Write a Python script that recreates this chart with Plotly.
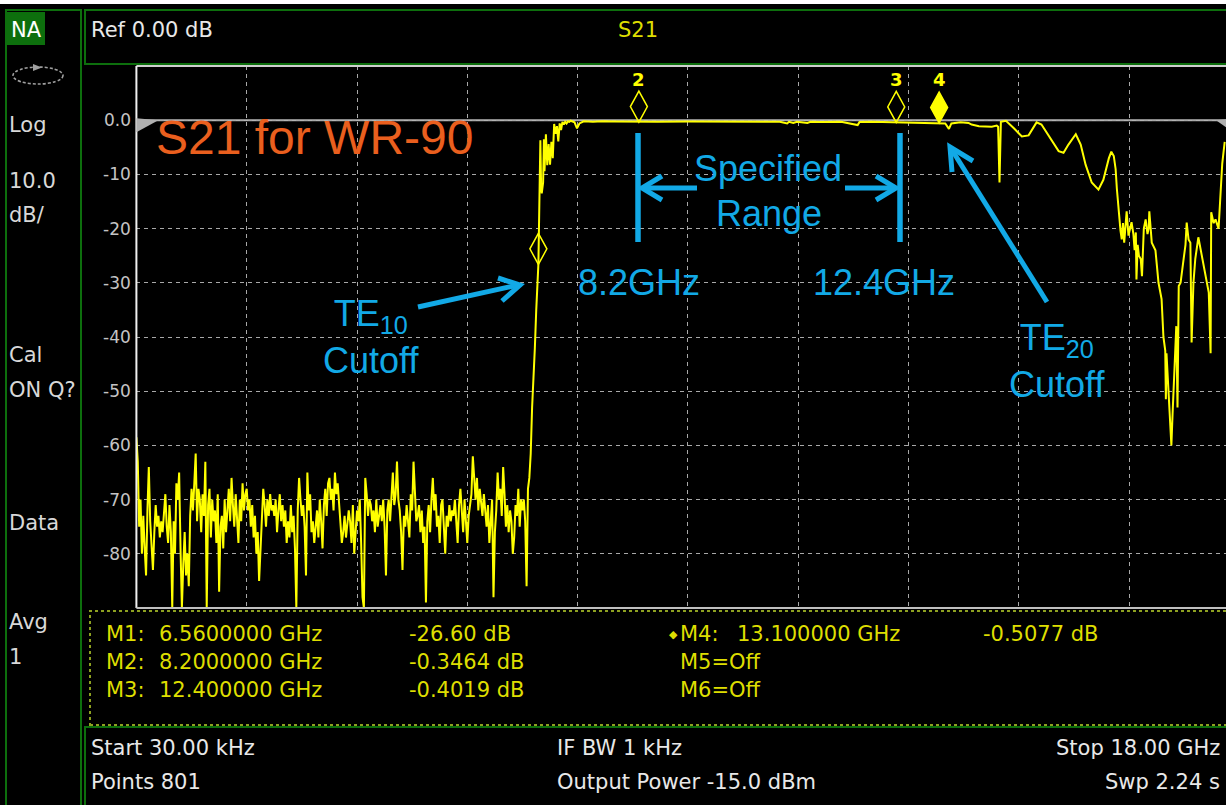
import plotly.graph_objects as go

W, H = 1226, 805

# ---- sweep settings ---------------------------------------------------------
START_GHZ = 30e-6
STOP_GHZ = 18.0
N_POINTS = 801
STEP_GHZ = (STOP_GHZ - START_GHZ) / (N_POINTS - 1)

# ---- S21 trace (dB) ---------------------------------------------------------
# below TE10 cutoff: one value per sweep point, starting at 30 kHz
noise_floor_db = [
    -58.5, -63, -75, -70, -80, -73, -79, -84, -72, -64,
    -74, -78, -83, -76, -71, -75, -73, -77, -74, -76,
    -73, -69, -75, -78, -71, -76, -90, -74, -80, -67,
    -70, -65, -79, -90, -82, -76, -84, -80, -86, -73,
    -68, -72, -67, -61.5, -74, -68, -70, -76, -69, -73,
    -63, -90, -71, -68, -77, -70, -74, -72, -78, -69,
    -87, -75, -73, -79, -70, -76, -72, -68, -74, -66,
    -71, -75, -69, -73, -78, -70, -74, -67, -72, -69,
    -68, -72, -70, -75, -71, -77, -73, -80, -76, -85,
    -79, -74, -68, -71, -75, -70, -73, -69, -72, -71,
    -73, -70, -76, -72, -69, -74, -71, -75, -72, -78,
    -74, -77, -71, -76, -73, -79, -90, -72, -66, -70,
    -73, -71, -75, -84, -65, -72, -69, -76, -74, -78,
    -75, -72, -77, -70, -74, -79, -71, -68, -73, -67,
    -66, -70, -68, -72, -65, -69, -67, -71, -74, -78,
    -76, -73, -77, -75, -72, -74, -78, -71, -80, -76,
    -72, -74, -70, -78, -88, -90, -66, -69, -73, -70,
    -71, -74, -72, -76, -70, -75, -73, -71, -74, -70,
    -75, -84, -72, -70, -74, -68, -65, -71, -69, -63,
    -70, -72, -76, -83, -73, -75, -71, -74, -77, -69,
    -72, -63, -70, -74, -73, -71, -76, -72, -78, -75,
    -89, -74, -71, -76, -70, -66, -72, -69, -75, -73,
    -78, -71, -70, -76, -80, -73, -75, -71, -74, -72,
    -73, -70, -74, -78, -71, -68, -72, -76, -70, -75,
    -78, -73, -71, -69, -62, -67, -70, -66, -72, -68,
    -70, -73, -69, -72, -75, -71, -78, -74, -70, -88,
    -76, -72, -65, -70, -68, -73, -64, -69, -75, -71,
    -76, -72, -74, -80, -77, -71, -73, -68, -75, -70,
    -72, -70, -74, -86, -68, -66,
]

# TE10 cutoff edge
rise_freq_ghz = [
    6.435, 6.4575, 6.48, 6.5025, 6.525, 6.5475, 6.56, 6.57, 6.58, 6.5925,
    6.605, 6.615, 6.6375, 6.65, 6.66, 6.6825, 6.705, 6.7275, 6.75, 6.7725,
    6.795, 6.8175, 6.84, 6.8625, 6.885, 6.9075, 6.93, 6.9525, 6.975, 6.9975,
    7.02, 7.0425, 7.065, 7.0875,
]
rise_db = [
    -61.5, -53, -48, -42, -35, -29, -26.6, -19.5, -13, -3.7,
    -12.5, -13.5, -11.5, -3.5, -9.4, -2.6, -8.3, -4.4, -8.2, -4,
    -7, -0.7, -2.5, -1.1, -3.9, -0.6, -1.8, -0.3, -0.8, -0.3,
    -0.6, -0.2, -0.3, -0.1,
]

# passband and the higher-order-mode region
pass_freq_ghz = [
    7.15, 7.19, 7.23, 7.3, 7.45, 7.6, 7.8, 8.0, 8.2, 8.5,
    9.0, 9.5, 10.0, 10.5, 10.62, 10.65, 10.72, 10.78, 10.95, 11.0,
    11.2, 11.5, 11.77, 11.8, 12.0, 12.2, 12.4, 12.7, 13.0, 13.1,
    13.2, 13.26, 13.3, 13.45, 13.58, 13.63, 13.75, 13.96, 14.04, 14.0625,
    14.085, 14.1075, 14.19, 14.32, 14.45, 14.56, 14.69, 14.77, 14.89, 15.05,
    15.13, 15.21, 15.33, 15.41, 15.49, 15.59, 15.70, 15.78, 15.87, 15.91,
    15.95, 15.98, 16.00, 16.03, 16.06, 16.08, 16.10, 16.12, 16.14, 16.16,
    16.19, 16.22, 16.24, 16.27, 16.29, 16.31, 16.32, 16.34, 16.36, 16.39,
    16.41, 16.44, 16.47, 16.50, 16.52, 16.53, 16.57, 16.63, 16.68, 16.73,
    16.76, 16.79, 16.80, 16.81, 16.84, 16.86, 16.88, 16.89, 16.91, 16.92,
    16.94, 16.97, 16.99, 17.01, 17.04, 17.09, 17.12, 17.14, 17.17, 17.20,
    17.22, 17.25, 17.28, 17.33, 17.38, 17.45, 17.50, 17.53, 17.54, 17.58,
    17.61, 17.66, 17.69, 17.72, 17.76,
]
pass_db = [
    -0.4, -1.5, -0.6, -0.2, -0.3, -0.2, -0.25, -0.3, -0.3464, -0.3,
    -0.25, -0.3, -0.28, -0.3, -0.6, -0.3, -0.5, -0.3, -0.5, -0.3,
    -0.35, -0.3, -0.9, -0.35, -0.3, -0.35, -0.4019, -0.45, -0.5, -0.5077,
    -0.6, -1.6, -0.6, -0.4, -0.5, -0.8, -1.1, -1.2, -1.0, -1.2,
    -11.5, -0.3, -0.1, -1.5, -3.0, -2.8, -0.4, -0.8, -2.8, -5.7,
    -6.0, -4.5, -2.6, -4.5, -8.2, -11.5, -12.8, -11.0, -7.0, -5.8,
    -6.6, -9.0, -12.6, -17.4, -20.4, -22.0, -19.0, -22.6, -20.0, -16.8,
    -21.3, -19.5, -18.8, -21.0, -24.0, -20.7, -29.4, -23.0, -25.0, -25.6,
    -28.8, -20.0, -18.3, -21.0, -19.9, -16.8, -22.6, -24.0, -30.0, -33.0,
    -40.0, -42.5, -51.5, -43.0, -50.0, -54.6, -57.0, -60.0, -54.0, -52.0,
    -46.0, -38.0, -53.0, -30.6, -30.0, -25.6, -23.0, -18.9, -22.0, -22.6,
    -41.0, -30.0, -25.6, -21.6, -24.4, -28.7, -31.8, -43.0, -17.0, -19.0,
    -18.3, -20.0, -14.5, -8.0, -4.0,
]

# markers
marker_freq_ghz = [6.56, 8.2, 12.4, 13.1]
marker_db = [-26.60, -0.3464, -0.4019, -0.5077]
marker_ids = ["1", "2", "3", "4"]
marker_active = [False, False, False, True]
marker_show_id = [False, True, True, True]

# axis ticks
y_tick_vals = [0, -10, -20, -30, -40, -50, -60, -70, -80]
y_tick_text = ["0.0", "-10", "-20", "-30", "-40", "-50", "-60", "-70", "-80"]

noise_freq_ghz = [START_GHZ + i * STEP_GHZ for i in range(len(noise_floor_db))]
freq_ghz = noise_freq_ghz + rise_freq_ghz + pass_freq_ghz
s21_db = noise_floor_db + rise_db + pass_db

# ---- screen geometry (pixels) ----------------------------------------------
PLOT_LEFT = 136.4
PLOT_TOP = 66
PLOT_BOTTOM = 608
DIV_PX = 110.3
GHZ_PER_DIV = 1.8
x_end = GHZ_PER_DIV * (W - PLOT_LEFT) / DIV_PX

GREEN = "#0d6f0d"
YEL = "#ffff00"
TXT_YEL = "#dede00"
WHITE = "#e8e8e8"
GRAY = "#c4c4c4"
BLUE = "#12a9e6"
ORANGE = "#ea5f1e"
INST = "DejaVu Sans"
OFFICE = "Liberation Sans, Arial"


def px(x):
    return x / W


def py(y):
    return 1 - y / H


shapes = []
annotations = []


def rect(x0, y0, x1, y1, line=None, fill=None, dash=None, width=2, layer="above"):
    shapes.append(dict(
        type="rect", xref="paper", yref="paper",
        x0=px(x0), x1=px(x1), y0=py(y1), y1=py(y0),
        line=dict(color=line or "rgba(0,0,0,0)", width=width if line else 0,
                  dash=dash or "solid"),
        fillcolor=fill or "rgba(0,0,0,0)", layer=layer,
    ))


def seg(x0, y0, x1, y1, color, width, layer="above"):
    shapes.append(dict(
        type="line", xref="paper", yref="paper",
        x0=px(x0), y0=py(y0), x1=px(x1), y1=py(y1),
        line=dict(color=color, width=width), layer=layer,
    ))


def poly(points, color, width=0, fill=None, closed=False):
    d = "M " + " L ".join(f"{px(x):.5f} {py(y):.5f}" for x, y in points)
    if closed:
        d += " Z"
    shapes.append(dict(
        type="path", xref="paper", yref="paper", path=d,
        line=dict(color=color, width=width),
        fillcolor=fill or "rgba(0,0,0,0)", layer="above",
    ))


def text(x, y, s, size, color, anchor="left", family=INST, weight="normal"):
    annotations.append(dict(
        x=px(x), y=py(y), xref="paper", yref="paper", text=s,
        showarrow=False, xanchor=anchor, yanchor="middle", align=anchor,
        font=dict(family=family, size=size, color=color, weight=weight),
    ))


# ---- instrument frame ------------------------------------------------------
rect(0, 0, W, 4, fill="#ffffff")
rect(6, 10, 81, 812, line=GREEN)
rect(7, 12, 45, 45, fill=GREEN, layer="above")
rect(85, 10, 1240, 64, line=GREEN)
rect(90, 611, 1240, 725, line="#8da020", dash="dot", width=2)
rect(85, 727, 1240, 812, line=GREEN)

# plot frame and reference level line
seg(PLOT_LEFT, PLOT_TOP, W, PLOT_TOP, "#cfcfcf", 2)
seg(PLOT_LEFT, PLOT_TOP, PLOT_LEFT, PLOT_BOTTOM, "#f0f0f0", 2)
seg(PLOT_LEFT, PLOT_BOTTOM, W, PLOT_BOTTOM, "#bfbfbf", 2)
shapes.append(dict(type="line", xref="paper", yref="y", x0=px(PLOT_LEFT), x1=1,
                   y0=0, y1=0, line=dict(color="#b4b4b4", width=2), layer="between"))
# reference level pointers
shapes.append(dict(type="path", xref="paper", yref="y", xsizemode="pixel",
                   ysizemode="pixel", xanchor=px(PLOT_LEFT), yanchor=0,
                   path="M 0 2 L 22 0 L 0 -12 Z", line=dict(width=0),
                   fillcolor="#b0b0b0", layer="above"))
shapes.append(dict(type="path", xref="paper", yref="y", xsizemode="pixel",
                   ysizemode="pixel", xanchor=1, yanchor=0,
                   path="M 0 1 L -10 0 L 0 -7 Z", line=dict(width=0),
                   fillcolor="#b0b0b0", layer="above"))

# y-axis scale labels, right-aligned against the frame
for v, lab in zip(y_tick_vals, y_tick_text):
    annotations.append(dict(
        x=px(PLOT_LEFT - 3), y=v, xref="paper", yref="y", text=lab,
        showarrow=False, xanchor="right", yanchor="middle",
        font=dict(family=INST, size=17, color=GRAY),
    ))

# left softkey column
text(9, 30, "NA", 21, "#ffffff")
shapes.append(dict(type="circle", xref="paper", yref="paper",
                   x0=px(13), x1=px(63), y0=py(84), y1=py(67),
                   line=dict(color="#a0a0a0", width=1.6, dash="3px,2px"), layer="above"))
poly([(33, 64), (42, 67.5), (33, 71)], "#a0a0a0", fill="#a0a0a0", closed=True)
for label, yy in [("Log", 125), ("10.0", 181), ("dB/", 215), ("Cal", 355),
                  ("ON Q?", 390), ("Data", 523), ("Avg", 622), ("1", 657)]:
    text(7, yy, label, 21, "#d8d8d8")

# header
text(89, 30, "Ref 0.00 dB", 21, WHITE)
text(616, 30, "S21", 21, TXT_YEL)

# marker readout table
rows = [
    ("M1:", "6.5600000 GHz", "-26.60 dB", 634),
    ("M2:", "8.2000000 GHz", "-0.3464 dB", 662),
    ("M3:", "12.400000 GHz", "-0.4019 dB", 690),
]
for lab, f_txt, v_txt, yy in rows:
    text(104, yy, lab, 21, TXT_YEL)
    text(157, yy, f_txt, 21, TXT_YEL)
    text(407, yy, v_txt, 21, TXT_YEL)
text(667, 634, "\u25c6", 11, TXT_YEL)
text(678, 634, "M4:", 21, TXT_YEL)
text(735, 634, "13.100000 GHz", 21, TXT_YEL)
text(981, 634, "-0.5077 dB", 21, TXT_YEL)
text(678, 662, "M5=Off", 21, TXT_YEL)
text(678, 690, "M6=Off", 21, TXT_YEL)

# status bar
text(89, 748, "Start 30.00 kHz", 21, WHITE)
text(89, 782, "Points 801", 21, WHITE)
text(555, 748, "IF BW 1 kHz", 21, WHITE)
text(555, 782, "Output Power -15.0 dBm", 21, WHITE)
text(1222, 748, "Stop 18.00 GHz", 21, WHITE, anchor="right")
text(1222, 782, "Swp 2.24 s", 21, WHITE, anchor="right")

# ---- marker symbols on the trace --------------------------------------------
for f, v, mid, active, show in zip(marker_freq_ghz, marker_db, marker_ids,
                                   marker_active, marker_show_id):
    shapes.append(dict(
        type="path", xref="x", yref="y", xsizemode="pixel", ysizemode="pixel",
        xanchor=f, yanchor=v, path="M 0 0 L 8.5 15.5 L 0 31 L -8.5 15.5 Z",
        line=dict(color=YEL, width=1.5),
        fillcolor=YEL if active else "rgba(0,0,0,0)", layer="above",
    ))
    if show:
        annotations.append(dict(
            x=f, y=v, xref="x", yref="y", text=mid, showarrow=False,
            yshift=43, font=dict(family=INST, size=18, color=YEL, weight="bold"),
        ))

# ---- callouts ---------------------------------------------------------------
text(154, 137, "S21 for WR-90", 48, ORANGE, family=OFFICE)

seg(638, 133, 638, 242, BLUE, 5.5)
seg(900, 133, 900, 242, BLUE, 5.5)
seg(697, 188, 643, 188, BLUE, 5)
poly([(662, 176), (642, 188), (662, 200)], BLUE, width=5)
seg(845, 188, 895, 188, BLUE, 5)
poly([(876, 176), (896, 188), (876, 200)], BLUE, width=5)
text(768, 168, "Specified", 36, BLUE, anchor="center", family=OFFICE)
text(769, 213, "Range", 36, BLUE, anchor="center", family=OFFICE)
text(639, 282, "8.2GHz", 36, BLUE, anchor="center", family=OFFICE)
text(884, 282, "12.4GHz", 36, BLUE, anchor="center", family=OFFICE)

seg(418, 307, 518, 285, BLUE, 5)
poly([(498, 278), (520, 285), (502, 301)], BLUE, width=5)
text(371, 337, "TE<sub>10</sub><br>Cutoff", 36, BLUE, anchor="center", family=OFFICE)

seg(1047, 302, 952, 150, BLUE, 5)
poly([(973, 161), (950, 147), (952, 172)], BLUE, width=5)
text(1057, 361, "TE<sub>20</sub><br>Cutoff", 36, BLUE, anchor="center", family=OFFICE)

# ---- figure ------------------------------------------------------------------
fig = go.Figure(go.Scatter(
    x=freq_ghz, y=s21_db, mode="lines",
    line=dict(color=YEL, width=2), hoverinfo="skip", showlegend=False,
))

grid = dict(gridcolor="#a8a8a8", gridwidth=1.4, griddash="4px,4px", showgrid=True,
            zeroline=False, showline=False)
fig.update_layout(
    width=W, height=H,
    margin=dict(l=0, r=0, t=0, b=0),
    paper_bgcolor="#000000", plot_bgcolor="#000000",
    xaxis=dict(domain=[px(PLOT_LEFT), 1], range=[0, x_end], tick0=0,
               dtick=GHZ_PER_DIV, showticklabels=False, ticks="", **grid),
    yaxis=dict(domain=[py(PLOT_BOTTOM), py(PLOT_TOP)], range=[-90, 10],
               tickvals=y_tick_vals, showticklabels=False, ticks="", **grid),
    shapes=shapes, annotations=annotations, showlegend=False,
)

fig.write_html("out.html", config={"displayModeBar": False})
